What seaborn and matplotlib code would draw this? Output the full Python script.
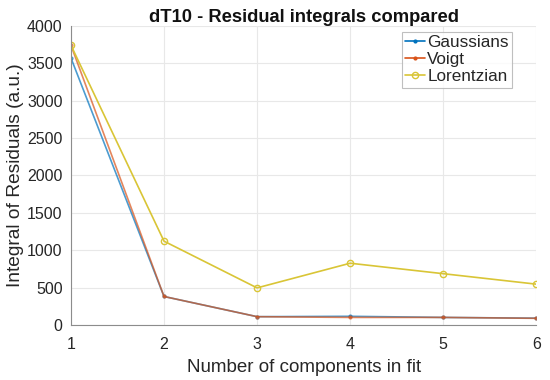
import matplotlib
matplotlib.use("Agg")
import matplotlib.pyplot as plt
import seaborn as sns
import pandas as pd

components = [1, 2, 3, 4, 5, 6]
gaussians = [3570, 380, 110, 115, 100, 90]
voigt = [3740, 380, 110, 100, 100, 88]
lorentzian = [3740, 1120, 495, 825, 685, 545]

sns.set_theme(style="whitegrid")
plt.rcParams['font.family'] = ['Liberation Sans', 'DejaVu Sans']

df = pd.concat([
    pd.DataFrame({"n": components, "val": gaussians, "model": "Gaussians"}),
    pd.DataFrame({"n": components, "val": voigt, "model": "Voigt"}),
    pd.DataFrame({"n": components, "val": lorentzian, "model": "Lorentzian"}),
])

colors = {"Gaussians": "#0072BD", "Voigt": "#D95319", "Lorentzian": "#D9C536"}

fig = plt.figure(figsize=(5.5, 3.8), dpi=100)
ax = fig.add_axes([0.129, 0.145, 0.846, 0.787])

for name in ["Gaussians", "Voigt", "Lorentzian"]:
    sub = df[df.model == name]
    if name == "Lorentzian":
        sns.lineplot(data=sub, x="n", y="val", ax=ax, color=colors[name], marker="o",
                     markersize=4.5, markerfacecolor="none", markeredgecolor=colors[name],
                     markeredgewidth=1.0, linewidth=1.2, label=name)
    else:
        sns.lineplot(data=sub, x="n", y="val", ax=ax, color=colors[name], marker="o",
                     markersize=3, markeredgewidth=0, linewidth=1.2, label=name, alpha=0.7)

ax.set_xlim(1, 6)
ax.set_ylim(0, 4000)
ax.set_xticks(components)
ax.set_yticks(range(0, 4001, 500))
ax.tick_params(axis="both", labelsize=11.5, colors="#262626", length=3, direction="out",
               color="#8c8c8c", width=0.8)
ax.tick_params(axis="x", pad=6)
ax.tick_params(axis="y", pad=3)
ax.grid(True, color="#e8e8e8", linewidth=0.8)
for s in ["top", "right"]:
    ax.spines[s].set_visible(False)
for s in ["left", "bottom"]:
    ax.spines[s].set_color("#8c8c8c")
    ax.spines[s].set_linewidth(0.8)
ax.set_facecolor("white")

ax.set_xlabel("Number of components in fit", fontsize=13.5, color="#262626", labelpad=5)
ax.set_ylabel("Integral of Residuals (a.u.)", fontsize=13.8, color="#262626", labelpad=2)
ax.set_title("dT10 - Residual integrals compared", fontsize=13.2, fontweight="bold", color="#111111", pad=3)

leg = ax.legend(loc="upper right", bbox_to_anchor=(0.948, 0.980), fontsize=12.3, frameon=True,
                fancybox=False, handlelength=1.2, handletextpad=0.1, borderpad=0.2,
                labelspacing=0.12, borderaxespad=0)
leg.get_frame().set_edgecolor("#b0b0b0")
leg.get_frame().set_linewidth(0.8)
for h in leg.get_lines():
    h.set_alpha(1)

fig.savefig("out.png", dpi=100)
